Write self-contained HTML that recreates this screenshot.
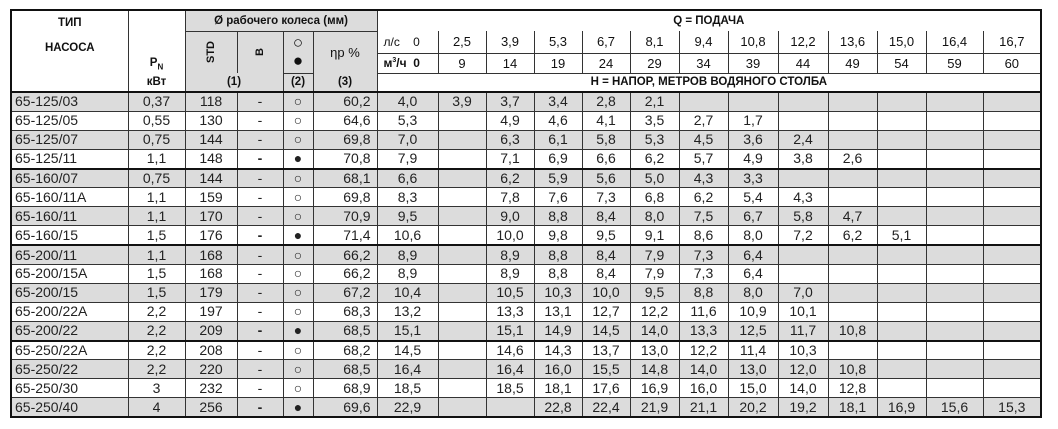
<!DOCTYPE html>
<html><head><meta charset="utf-8"><style>
html,body{margin:0;padding:0;background:#fff;width:1058px;height:429px;overflow:hidden}
table{position:absolute;left:10px;top:9px;border-collapse:collapse;table-layout:fixed;width:1030px;font-family:"Liberation Sans","DejaVu Sans",sans-serif;border:2px solid #111}
td{padding:0;border:1px solid #333;text-align:center;color:#222;overflow:hidden;white-space:nowrap}
.h td{font-weight:bold;font-size:11.5px;color:#111}
.n{font-weight:normal!important;font-size:13px!important}
.g{background:#dcdcdc}
tbody td{font-size:14px;height:17.9px;line-height:17px}
tbody td.t{text-align:left;text-indent:3px}
tbody td.e{text-align:right}
tbody td.e span{margin-right:6px}
tr.s td{border-top:2px solid #111}
.nb{border-bottom:none!important;border-top:none!important}
.vr{display:inline-block;transform:rotate(-90deg);font-size:11px}
</style></head><body>
<table>
<colgroup><col style="width:117px"><col style="width:57px"><col style="width:52px"><col style="width:46px"><col style="width:30px"><col style="width:64px"><col style="width:61px"><col style="width:48px"><col style="width:48px"><col style="width:48px"><col style="width:48px"><col style="width:49px"><col style="width:49px"><col style="width:50px"><col style="width:50px"><col style="width:49px"><col style="width:49px"><col style="width:57px"><col style="width:58px"></colgroup>
<thead class="h">
<tr style="height:21px"><td rowspan="4" style="vertical-align:top;line-height:25px">ТИП<br>НАСОСА</td><td rowspan="3" style="vertical-align:bottom;border-bottom:none;padding-bottom:2px">P<sub style="font-size:8px">N</sub></td><td colspan="4" class="g">Ø рабочего колеса (мм)</td><td colspan="13" style="border-bottom:none">Q = ПОДАЧА</td></tr>
<tr style="height:22px"><td rowspan="2" class="g" style="border-bottom:none"><span class="vr">STD</span></td><td rowspan="2" class="g" style="border-bottom:none"><span class="vr">B</span></td><td rowspan="2" class="g" style="border-bottom:none;font-size:17px;line-height:18px;font-weight:normal">○<br>●</td><td rowspan="2" class="g n" style="border-bottom:none">ηр %</td>
<td style="text-align:left;text-indent:6px;font-weight:normal;font-size:12px;border-top:none">л/с &nbsp;&nbsp;&nbsp;0</td><td class="nb n">2,5</td><td class="nb n">3,9</td><td class="nb n">5,3</td><td class="nb n">6,7</td><td class="nb n">8,1</td><td class="nb n">9,4</td><td class="nb n">10,8</td><td class="nb n">12,2</td><td class="nb n">13,6</td><td class="nb n">15,0</td><td class="nb n">16,4</td><td class="nb n">16,7</td></tr>
<tr style="height:20px"><td style="text-align:left;text-indent:6px;font-size:12px">м<sup style="font-size:7px">3</sup>/ч &nbsp;0</td><td class="n">9</td><td class="n">14</td><td class="n">19</td><td class="n">24</td><td class="n">29</td><td class="n">34</td><td class="n">39</td><td class="n">44</td><td class="n">49</td><td class="n">54</td><td class="n">59</td><td class="n">60</td></tr>
<tr style="height:19px"><td style="border-top:none">кВт</td><td colspan="2" class="g" style="border-top:none">(1)</td><td class="g">(2)</td><td class="g" style="border-top:none">(3)</td><td colspan="13" style="border-top:none">H = НАПОР, МЕТРОВ ВОДЯНОГО СТОЛБА</td></tr>
</thead>
<tbody>
<tr class="g s"><td class="t">65-125/03</td><td>0,37</td><td>118</td><td>-</td><td>○</td><td class="e"><span>60,2</span></td><td>4,0</td><td>3,9</td><td>3,7</td><td>3,4</td><td>2,8</td><td>2,1</td><td></td><td></td><td></td><td></td><td></td><td></td><td></td></tr>
<tr><td class="t">65-125/05</td><td>0,55</td><td>130</td><td>-</td><td>○</td><td class="e"><span>64,6</span></td><td>5,3</td><td></td><td>4,9</td><td>4,6</td><td>4,1</td><td>3,5</td><td>2,7</td><td>1,7</td><td></td><td></td><td></td><td></td><td></td></tr>
<tr class="g"><td class="t">65-125/07</td><td>0,75</td><td>144</td><td>-</td><td>○</td><td class="e"><span>69,8</span></td><td>7,0</td><td></td><td>6,3</td><td>6,1</td><td>5,8</td><td>5,3</td><td>4,5</td><td>3,6</td><td>2,4</td><td></td><td></td><td></td><td></td></tr>
<tr><td class="t">65-125/11</td><td>1,1</td><td>148</td><td><b>-</b></td><td>●</td><td class="e"><span>70,8</span></td><td>7,9</td><td></td><td>7,1</td><td>6,9</td><td>6,6</td><td>6,2</td><td>5,7</td><td>4,9</td><td>3,8</td><td>2,6</td><td></td><td></td><td></td></tr>
<tr class="g s"><td class="t">65-160/07</td><td>0,75</td><td>144</td><td>-</td><td>○</td><td class="e"><span>68,1</span></td><td>6,6</td><td></td><td>6,2</td><td>5,9</td><td>5,6</td><td>5,0</td><td>4,3</td><td>3,3</td><td></td><td></td><td></td><td></td><td></td></tr>
<tr><td class="t">65-160/11A</td><td>1,1</td><td>159</td><td>-</td><td>○</td><td class="e"><span>69,8</span></td><td>8,3</td><td></td><td>7,8</td><td>7,6</td><td>7,3</td><td>6,8</td><td>6,2</td><td>5,4</td><td>4,3</td><td></td><td></td><td></td><td></td></tr>
<tr class="g"><td class="t">65-160/11</td><td>1,1</td><td>170</td><td>-</td><td>○</td><td class="e"><span>70,9</span></td><td>9,5</td><td></td><td>9,0</td><td>8,8</td><td>8,4</td><td>8,0</td><td>7,5</td><td>6,7</td><td>5,8</td><td>4,7</td><td></td><td></td><td></td></tr>
<tr><td class="t">65-160/15</td><td>1,5</td><td>176</td><td><b>-</b></td><td>●</td><td class="e"><span>71,4</span></td><td>10,6</td><td></td><td>10,0</td><td>9,8</td><td>9,5</td><td>9,1</td><td>8,6</td><td>8,0</td><td>7,2</td><td>6,2</td><td>5,1</td><td></td><td></td></tr>
<tr class="g s"><td class="t">65-200/11</td><td>1,1</td><td>168</td><td>-</td><td>○</td><td class="e"><span>66,2</span></td><td>8,9</td><td></td><td>8,9</td><td>8,8</td><td>8,4</td><td>7,9</td><td>7,3</td><td>6,4</td><td></td><td></td><td></td><td></td><td></td></tr>
<tr><td class="t">65-200/15A</td><td>1,5</td><td>168</td><td>-</td><td>○</td><td class="e"><span>66,2</span></td><td>8,9</td><td></td><td>8,9</td><td>8,8</td><td>8,4</td><td>7,9</td><td>7,3</td><td>6,4</td><td></td><td></td><td></td><td></td><td></td></tr>
<tr class="g"><td class="t">65-200/15</td><td>1,5</td><td>179</td><td>-</td><td>○</td><td class="e"><span>67,2</span></td><td>10,4</td><td></td><td>10,5</td><td>10,3</td><td>10,0</td><td>9,5</td><td>8,8</td><td>8,0</td><td>7,0</td><td></td><td></td><td></td><td></td></tr>
<tr><td class="t">65-200/22A</td><td>2,2</td><td>197</td><td>-</td><td>○</td><td class="e"><span>68,3</span></td><td>13,2</td><td></td><td>13,3</td><td>13,1</td><td>12,7</td><td>12,2</td><td>11,6</td><td>10,9</td><td>10,1</td><td></td><td></td><td></td><td></td></tr>
<tr class="g"><td class="t">65-200/22</td><td>2,2</td><td>209</td><td><b>-</b></td><td>●</td><td class="e"><span>68,5</span></td><td>15,1</td><td></td><td>15,1</td><td>14,9</td><td>14,5</td><td>14,0</td><td>13,3</td><td>12,5</td><td>11,7</td><td>10,8</td><td></td><td></td><td></td></tr>
<tr class="s"><td class="t">65-250/22A</td><td>2,2</td><td>208</td><td>-</td><td>○</td><td class="e"><span>68,2</span></td><td>14,5</td><td></td><td>14,6</td><td>14,3</td><td>13,7</td><td>13,0</td><td>12,2</td><td>11,4</td><td>10,3</td><td></td><td></td><td></td><td></td></tr>
<tr class="g"><td class="t">65-250/22</td><td>2,2</td><td>220</td><td>-</td><td>○</td><td class="e"><span>68,5</span></td><td>16,4</td><td></td><td>16,4</td><td>16,0</td><td>15,5</td><td>14,8</td><td>14,0</td><td>13,0</td><td>12,0</td><td>10,8</td><td></td><td></td><td></td></tr>
<tr><td class="t">65-250/30</td><td>3</td><td>232</td><td>-</td><td>○</td><td class="e"><span>68,9</span></td><td>18,5</td><td></td><td>18,5</td><td>18,1</td><td>17,6</td><td>16,9</td><td>16,0</td><td>15,0</td><td>14,0</td><td>12,8</td><td></td><td></td><td></td></tr>
<tr class="g"><td class="t">65-250/40</td><td>4</td><td>256</td><td><b>-</b></td><td>●</td><td class="e"><span>69,6</span></td><td>22,9</td><td></td><td></td><td>22,8</td><td>22,4</td><td>21,9</td><td>21,1</td><td>20,2</td><td>19,2</td><td>18,1</td><td>16,9</td><td>15,6</td><td>15,3</td></tr>
</tbody></table>
</body></html>
